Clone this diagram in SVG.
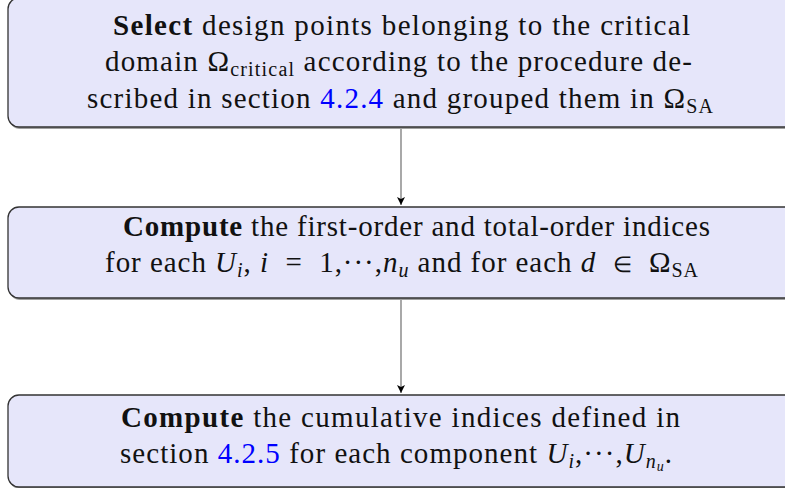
<svg xmlns="http://www.w3.org/2000/svg" width="785" height="488" viewBox="0 0 785 488">
<style>
.box{fill:#e6e6fa;stroke:#333333;stroke-width:1.3}
.shadow{fill:#a0a0a0}
.t{font-family:"Liberation Serif","Times New Roman",serif;font-size:29px;fill:#111111}
.b{font-weight:bold}
.m{font-style:italic}
.s{font-size:20px}
.ref{fill:#0000ff}
.conn{stroke:#7a7a7a;stroke-width:1.3;fill:none}
</style>
<defs>
<marker id="ah" markerUnits="userSpaceOnUse" markerWidth="10" markerHeight="10" refX="8" refY="4" orient="auto">
<path d="M0,0 L8,4 L0,8 L2,4 Z" fill="#000000"/>
</marker>
</defs>
<g id="connectors">
<line class="conn" x1="401" y1="128" x2="401" y2="205" marker-end="url(#ah)"/>
<line class="conn" x1="401" y1="299" x2="401" y2="393" marker-end="url(#ah)"/>
</g>
<g id="node-select">
<rect class="shadow" x="9" y="0" width="800" height="129" rx="11"/>
<rect class="box" x="8" y="-2" width="800" height="129" rx="11"/>
<text class="t" x="113" y="35" textLength="577" lengthAdjust="spacing"><tspan class="b">Select</tspan> design points belonging to the critical</text>
<text class="t" x="105" y="71" textLength="587" lengthAdjust="spacing">domain Ω<tspan class="s" dy="5">critical</tspan><tspan dy="-5"> according to the procedure de-</tspan></text>
<text class="t" x="87" y="108" textLength="626" lengthAdjust="spacing">scribed in section <tspan class="ref">4.2.4</tspan> and grouped them in Ω<tspan class="s" dy="5">SA</tspan></text>
</g>
<g id="node-compute-indices">
<rect class="shadow" x="9" y="209" width="800" height="91" rx="11"/>
<rect class="box" x="8" y="207" width="800" height="91" rx="11"/>
<text class="t" x="123" y="236" textLength="587" lengthAdjust="spacing"><tspan class="b">Compute</tspan> the first-order and total-order indices</text>
<text class="t" x="105" y="272" textLength="593" lengthAdjust="spacing">for each <tspan class="m">U</tspan><tspan class="s m" dy="5">i</tspan><tspan dy="-5">, </tspan><tspan class="m">i</tspan>&#160;&#160;=&#160;&#160;1,···,<tspan class="m">n</tspan><tspan class="s m" dy="5">u</tspan><tspan dy="-5"> and for each </tspan><tspan class="m">d</tspan>&#160;&#160;<tspan style="font-size:22px">∈</tspan>&#160;&#160;Ω<tspan class="s" dy="5">SA</tspan></text>
</g>
<g id="node-compute-cumulative">
<rect class="shadow" x="9" y="397" width="800" height="92" rx="11"/>
<rect class="box" x="8" y="395" width="800" height="92" rx="11"/>
<text class="t" x="121" y="427" textLength="559" lengthAdjust="spacing"><tspan class="b">Compute</tspan> the cumulative indices defined in</text>
<text class="t" x="120" y="463" textLength="552" lengthAdjust="spacing">section <tspan class="ref">4.2.5</tspan> for each component <tspan class="m">U</tspan><tspan class="s m" dy="5">i</tspan><tspan dy="-5">,···,</tspan><tspan class="m">U</tspan><tspan class="s m" dy="5">n</tspan><tspan class="m" style="font-size:14px" dy="3">u</tspan><tspan dy="-8">.</tspan></text>
</g>
</svg>
